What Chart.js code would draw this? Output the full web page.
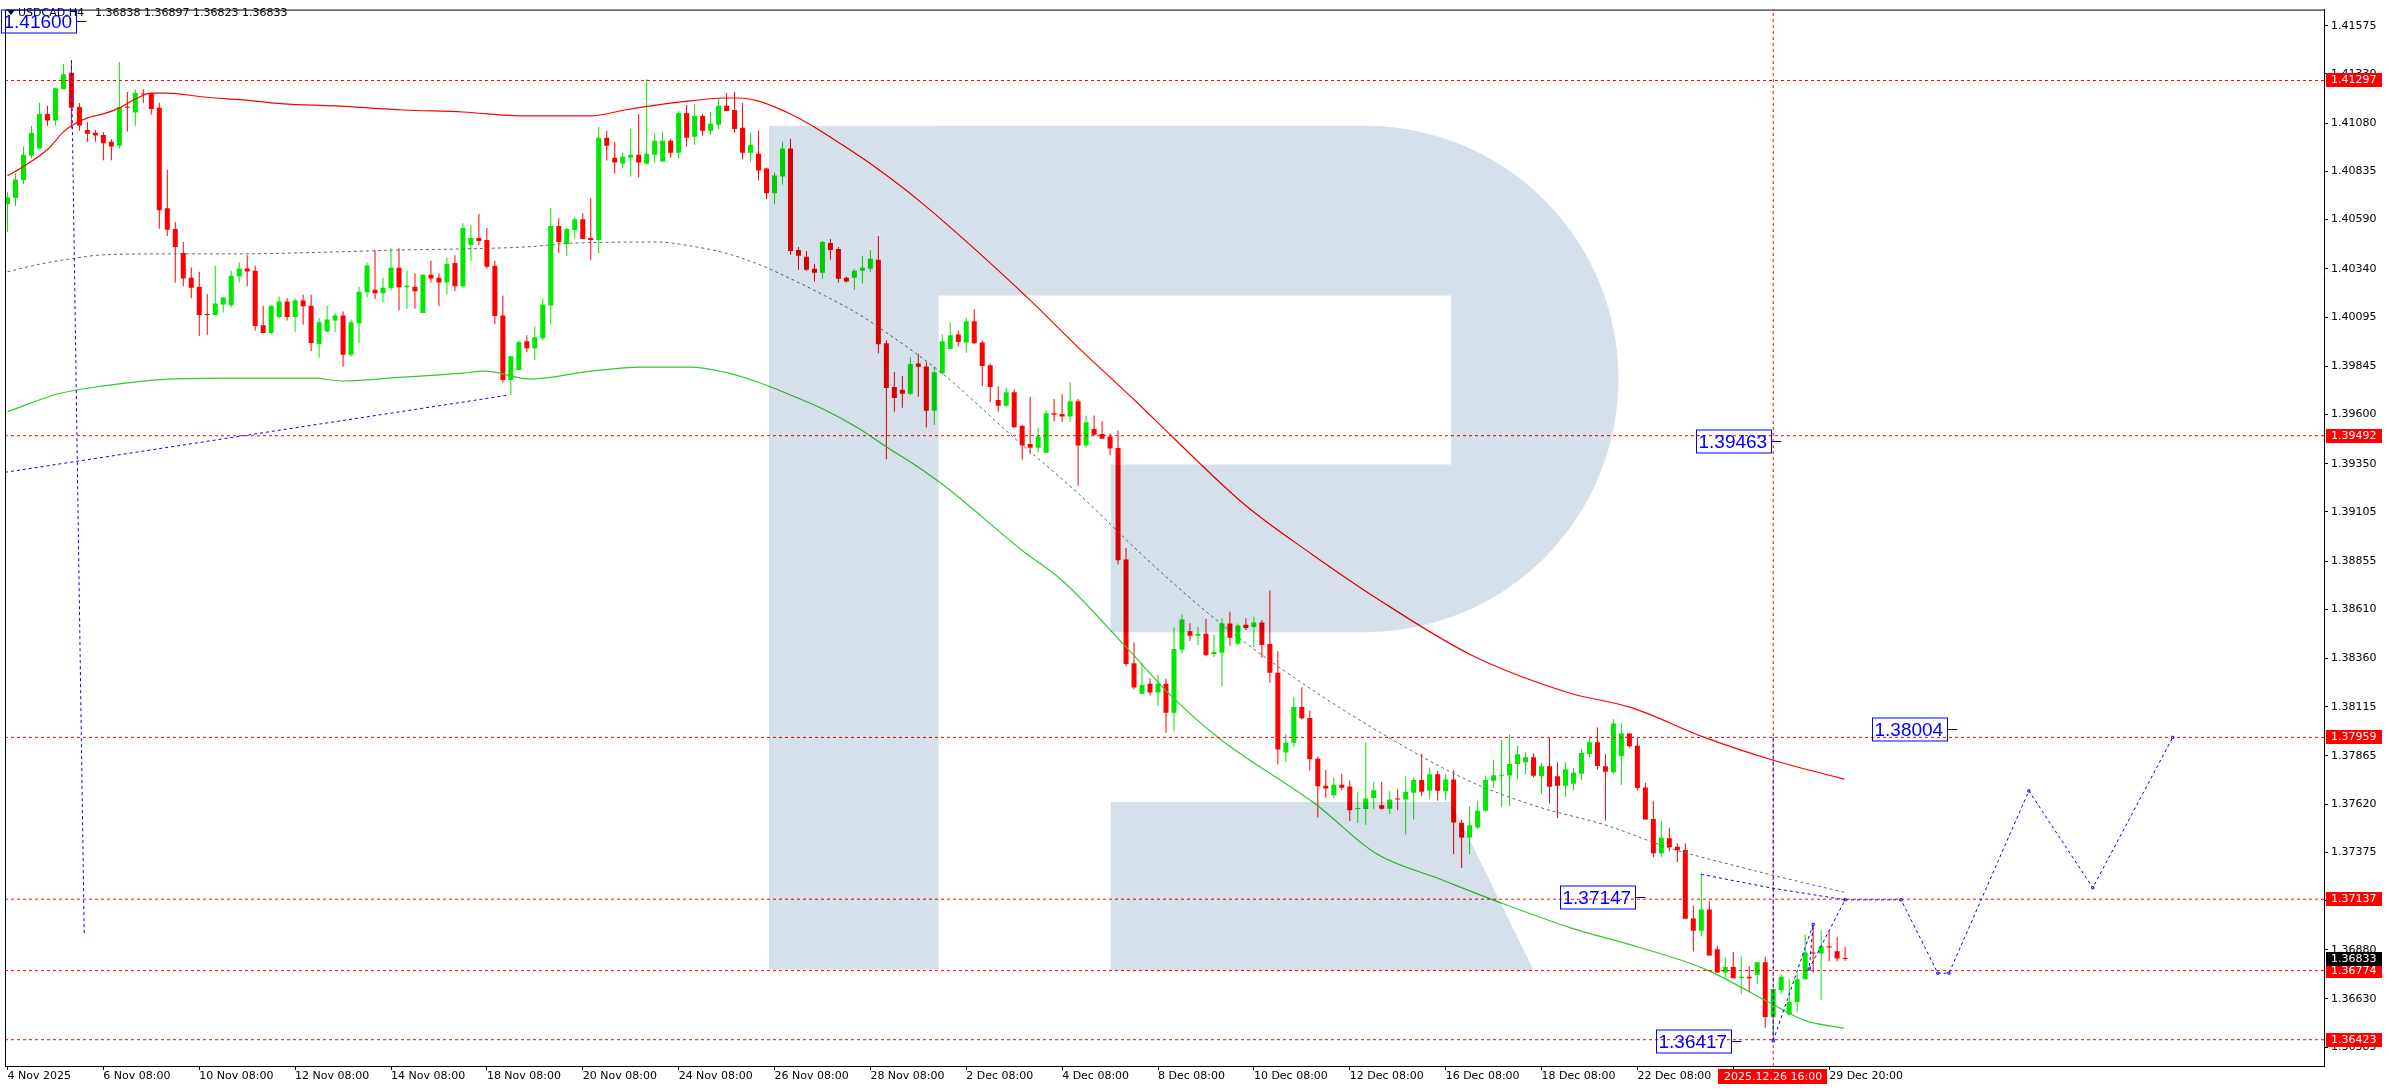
<!DOCTYPE html>
<html><head><meta charset="utf-8"><title>USDCAD H4</title>
<script src="https://cdn.jsdelivr.net/npm/chart.js@4.4.1/dist/chart.umd.min.js"></script>
<style>html,body{margin:0;padding:0;background:#fff;overflow:hidden}canvas{display:block}</style>
</head><body>
<canvas id="chart" width="2388" height="1090"></canvas>
<script>
// ---------------- DATA ----------------
const symbolLabel = 'USDCAD,H4';
const xTickIdx = [0,12,24,36,48,60,72,84,96,108,120,132,144,156,168,180,192,204,216,228];
const xTickLabels = ['4 Nov 2025','6 Nov 08:00','10 Nov 08:00','12 Nov 08:00','14 Nov 08:00','18 Nov 08:00',
  '20 Nov 08:00','24 Nov 08:00','26 Nov 08:00','28 Nov 08:00','2 Dec 08:00','4 Dec 08:00','8 Dec 08:00',
  '10 Dec 08:00','12 Dec 08:00','16 Dec 08:00','18 Dec 08:00','22 Dec 08:00','24 Dec 08:00','29 Dec 20:00'];
const yTicks = [1.41575,1.41330,1.41080,1.40835,1.40590,1.40340,1.40095,1.39845,1.39600,1.39350,1.39105,
  1.38855,1.38610,1.38360,1.38115,1.37865,1.37620,1.37375,1.37130,1.36880,1.36630,1.36385];

const opens = [
1.40670,1.40700,1.40791,1.40915,1.40952,1.41127,1.41094,1.41253,1.41336,1.41162,
1.41046,1.41031,1.41020,1.40986,1.40966,1.41162,1.41134,1.41230,1.41233,1.41159,
1.40648,1.40542,1.40421,1.40295,1.40249,1.40110,1.40105,1.40159,1.40155,1.40301,
1.40342,1.40330,1.40053,1.40014,1.40095,1.40174,1.40095,1.40179,1.40153,1.39958,
1.40022,1.40078,1.40103,1.39903,1.40064,1.40221,1.40234,1.40216,1.40241,1.40345,
1.40246,1.40249,1.40115,1.40310,1.40295,1.40271,1.40369,1.40251,1.40461,1.40497,
1.40487,1.40355,1.40103,1.39775,1.39826,1.39972,1.39937,1.39987,1.40154,1.40557,
1.40466,1.40537,1.40592,1.40497,1.40487,1.41006,1.40905,1.40875,1.40905,1.40920,
1.40875,1.40920,1.40885,1.40991,1.40930,1.41132,1.41011,1.41117,1.41041,1.41072,
1.41168,1.41147,1.41057,1.40930,1.40925,1.40850,1.40724,1.40809,1.40951,1.40436,
1.40401,1.40340,1.40320,1.40471,1.40441,1.40295,1.40295,1.40330,1.40340,1.40386,
1.39962,1.39740,1.39725,1.39705,1.39859,1.39844,1.39619,1.39810,1.39932,1.40006,
1.39966,1.40073,1.39966,1.39850,1.39673,1.39644,1.39713,1.39541,1.39450,1.39431,
1.39406,1.39606,1.39602,1.39589,1.39667,1.39442,1.39526,1.39501,1.39488,1.39429,
1.38863,1.38336,1.38181,1.38231,1.38187,1.38231,1.38084,1.38404,1.38498,1.38475,
1.38486,1.38383,1.38389,1.38538,1.38435,1.38532,1.38520,1.38543,1.38433,1.38288,
1.37882,1.37932,1.38113,1.38058,1.37850,1.37713,1.37665,1.37719,1.37709,1.37595,
1.37595,1.37651,1.37614,1.37597,1.37646,1.37644,1.37678,1.37742,1.37688,1.37772,
1.37686,1.37745,1.37525,1.37451,1.37501,1.37586,1.37739,1.37764,1.37766,1.37824,
1.37833,1.37858,1.37762,1.37813,1.37762,1.37713,1.37723,1.37774,1.37875,1.37934,
1.37813,1.37782,1.37863,1.37979,1.37917,1.37705,1.37544,1.37370,1.37446,1.37404,
1.37387,1.37039,1.36977,1.37084,1.36883,1.36765,1.36792,1.36736,1.36743,1.36753,
1.36817,1.36538,1.36676,1.36551,1.36614,1.36730,1.36866,1.36861,1.36898,1.36873,
1.36838];
const highs = [
1.40729,1.40826,1.40961,1.41067,1.41183,1.41168,1.41258,1.41381,1.41400,1.41183,
1.41085,1.41046,1.41035,1.40998,1.41390,1.41238,1.41253,1.41253,1.41233,1.41184,
1.40843,1.40577,1.40476,1.40347,1.40325,1.40212,1.40355,1.40194,1.40330,1.40372,
1.40409,1.40355,1.40153,1.40153,1.40199,1.40190,1.40190,1.40209,1.40209,1.40090,
1.40153,1.40115,1.40123,1.40083,1.40249,1.40372,1.40436,1.40295,1.40444,1.40444,
1.40330,1.40318,1.40313,1.40381,1.40318,1.40397,1.40409,1.40572,1.40562,1.40618,
1.40547,1.40381,1.40204,1.39896,1.39977,1.40002,1.40048,1.40189,1.40648,1.40597,
1.40547,1.40603,1.40623,1.40698,1.41062,1.41041,1.40986,1.40930,1.41051,1.41127,
1.41304,1.41026,1.41036,1.41001,1.41142,1.41173,1.41178,1.41127,1.41137,1.41203,
1.41233,1.41238,1.41183,1.41031,1.41041,1.40855,1.40830,1.40986,1.41001,1.40451,
1.40431,1.40365,1.40481,1.40492,1.40451,1.40300,1.40340,1.40406,1.40436,1.40507,
1.39977,1.39816,1.39795,1.39891,1.39909,1.39865,1.39842,1.40006,1.40067,1.40027,
1.40093,1.40135,1.39975,1.39859,1.39743,1.39737,1.39728,1.39547,1.39690,1.39534,
1.39621,1.39678,1.39703,1.39764,1.39678,1.39595,1.39595,1.39566,1.39503,1.39518,
1.38922,1.38442,1.38338,1.38258,1.38280,1.38258,1.38518,1.38583,1.38539,1.38520,
1.38562,1.38482,1.38564,1.38598,1.38536,1.38564,1.38572,1.38555,1.38705,1.38397,
1.37978,1.38166,1.38214,1.38094,1.37861,1.37795,1.37755,1.37774,1.37740,1.37684,
1.37932,1.37735,1.37732,1.37685,1.37695,1.37762,1.37755,1.37877,1.37806,1.37789,
1.37772,1.37792,1.37540,1.37609,1.37636,1.37766,1.37846,1.37947,1.37974,1.37917,
1.37883,1.37878,1.37828,1.37957,1.37833,1.37833,1.37803,1.37900,1.37964,1.38009,
1.37873,1.38051,1.38031,1.37979,1.37957,1.37729,1.37636,1.37535,1.37500,1.37421,
1.37421,1.37105,1.37269,1.37126,1.36898,1.36841,1.36869,1.36846,1.36797,1.36817,
1.36844,1.36681,1.36757,1.36730,1.36760,1.36958,1.37009,1.36978,1.36975,1.36945,
1.36897];
const lows = [
1.40528,1.40658,1.40771,1.40902,1.40949,1.41067,1.41067,1.41253,1.41053,1.41041,
1.40986,1.40986,1.40892,1.40892,1.40952,1.41038,1.41067,1.41184,1.41124,1.40544,
1.40507,1.40271,1.40251,1.40190,1.39999,1.40005,1.40105,1.40118,1.40145,1.40271,
1.40251,1.40027,1.40014,1.40009,1.40086,1.40078,1.40019,1.40056,1.39923,1.39888,
1.40019,1.40019,1.39842,1.39893,1.39963,1.40196,1.40187,1.40169,1.40231,1.40130,
1.40137,1.40137,1.40115,1.40271,1.40150,1.40211,1.40227,1.40244,1.40381,1.40461,
1.40342,1.40058,1.39762,1.39699,1.39826,1.39916,1.39876,1.39977,1.40058,1.40421,
1.40406,1.40497,1.40492,1.40386,1.40421,1.40890,1.40824,1.40850,1.40809,1.40804,
1.40870,1.40880,1.40885,1.40905,1.40900,1.40961,1.40971,1.41016,1.41021,1.41047,
1.41142,1.41031,1.40895,1.40885,1.40789,1.40693,1.40668,1.40769,1.40411,1.40335,
1.40330,1.40275,1.40290,1.40386,1.40270,1.40270,1.40234,1.40265,1.40325,1.39911,
1.39372,1.39614,1.39634,1.39699,1.39690,1.39534,1.39547,1.39804,1.39932,1.39947,
1.39913,1.39958,1.39743,1.39663,1.39614,1.39638,1.39532,1.39370,1.39398,1.39408,
1.39406,1.39566,1.39562,1.39562,1.39238,1.39431,1.39492,1.39476,1.39393,1.38837,
1.38320,1.38202,1.38181,1.38172,1.38120,1.37983,1.37989,1.38385,1.38450,1.38429,
1.38372,1.38368,1.38218,1.38425,1.38429,1.38505,1.38418,1.38364,1.38237,1.37821,
1.37833,1.37909,1.38050,1.37791,1.37552,1.37652,1.37650,1.37690,1.37534,1.37524,
1.37515,1.37594,1.37592,1.37569,1.37589,1.37466,1.37542,1.37660,1.37643,1.37639,
1.37639,1.37365,1.37295,1.37365,1.37493,1.37581,1.37703,1.37607,1.37609,1.37747,
1.37772,1.37757,1.37673,1.37623,1.37550,1.37658,1.37690,1.37742,1.37858,1.37796,
1.37537,1.37774,1.37718,1.37908,1.37688,1.37542,1.37350,1.37350,1.37380,1.37325,
1.37037,1.36871,1.36947,1.36851,1.36765,1.36736,1.36735,1.36654,1.36664,1.36706,
1.36484,1.36417,1.36656,1.36546,1.36563,1.36726,1.36765,1.36625,1.36820,1.36820,
1.36823];
const closes = [
1.40703,1.40794,1.40920,1.41031,1.41127,1.41094,1.41258,1.41329,1.41159,1.41068,
1.41026,1.41018,1.40978,1.40961,1.41162,1.41159,1.41233,1.41226,1.41152,1.40638,
1.40539,1.40451,1.40291,1.40244,1.40105,1.40106,1.40164,1.40194,1.40305,1.40342,
1.40327,1.40049,1.40014,1.40153,1.40174,1.40095,1.40179,1.40150,1.39963,1.40068,
1.40083,1.40103,1.39903,1.40068,1.40224,1.40357,1.40216,1.40244,1.40345,1.40246,
1.40254,1.40226,1.40310,1.40291,1.40271,1.40364,1.40251,1.40547,1.40497,1.40481,
1.40350,1.40100,1.39775,1.39896,1.39967,1.39937,1.39992,1.40159,1.40557,1.40476,
1.40542,1.40592,1.40492,1.40487,1.41006,1.40966,1.40880,1.40910,1.40920,1.40880,
1.40925,1.40991,1.40991,1.40930,1.41132,1.41006,1.41117,1.41041,1.41077,1.41168,
1.41142,1.41051,1.40930,1.40971,1.40840,1.40724,1.40814,1.40951,1.40431,1.40406,
1.40335,1.40320,1.40476,1.40436,1.40290,1.40275,1.40330,1.40345,1.40391,1.39957,
1.39735,1.39684,1.39705,1.39856,1.39842,1.39619,1.39814,1.39972,1.40002,1.39968,
1.40073,1.39962,1.39846,1.39739,1.39644,1.39713,1.39535,1.39442,1.39431,1.39488,
1.39606,1.39598,1.39589,1.39667,1.39442,1.39560,1.39497,1.39476,1.39427,1.38859,
1.38332,1.38212,1.38225,1.38187,1.38231,1.38084,1.38408,1.38558,1.38475,1.38486,
1.38378,1.38393,1.38538,1.38465,1.38528,1.38515,1.38543,1.38429,1.38288,1.37898,
1.37932,1.38113,1.38056,1.37848,1.37711,1.37700,1.37719,1.37703,1.37589,1.37599,
1.37648,1.37690,1.37597,1.37644,1.37643,1.37681,1.37742,1.37683,1.37772,1.37688,
1.37745,1.37527,1.37451,1.37513,1.37586,1.37742,1.37767,1.37767,1.37824,1.37873,
1.37858,1.37764,1.37813,1.37708,1.37713,1.37797,1.37779,1.37880,1.37934,1.37814,
1.37784,1.38030,1.37979,1.37914,1.37702,1.37542,1.37370,1.37449,1.37401,1.37385,
1.37037,1.36977,1.37084,1.36851,1.36765,1.36792,1.36735,1.36743,1.36735,1.36817,
1.36538,1.36681,1.36743,1.36615,1.36730,1.36866,1.36861,1.36898,1.36891,1.36836,
1.36833];

// moving-average style envelope lines (bar index, price)
const redMAIdx = [0,2,5,7,8,10,12,14,16,18,20,24.5,29.5,34.5,41,49.5,57,64.75,73,77.25,81.4,85.5,89.75,91.75,93.9,96,98,100.5,104.25,108.5,113.9,127.4,134.1,141.6,145.75,154.9,163.25,171.4,183.2,195.4,203.25,212.4,221,229.9];
const redMAVal = [1.40813,1.40860,1.40946,1.41036,1.41067,1.41107,1.41127,1.41158,1.41203,1.41233,1.41233,1.41213,1.41198,1.41178,1.41168,1.41147,1.41137,1.41117,1.41117,1.41147,1.41173,1.41193,1.41208,1.41208,1.41193,1.41163,1.41127,1.41072,1.40976,1.40860,1.40693,1.40204,1.39937,1.39652,1.39488,1.39140,1.38890,1.38665,1.38378,1.38186,1.38110,1.37959,1.37843,1.37747];
const grayMAIdx = [0,3.6,7.9,12,20.4,28.6,41.1,49.5,56.6,64.75,71,81.4,85.5,89.75,93.9,98,102.25,106.4,110.5,113.5,117.4,125.75,134.1,142.4,150.75,159.1,171.4,183.25,191.6,199.9,208.25,216.6,221,229.9];
const grayMAVal = [1.40325,1.40360,1.40391,1.40411,1.40416,1.40416,1.40426,1.40436,1.40441,1.40451,1.40471,1.40476,1.40456,1.40421,1.40365,1.40290,1.40204,1.40113,1.40002,1.39916,1.39795,1.39490,1.39195,1.38872,1.38574,1.38317,1.37994,1.37732,1.37606,1.37515,1.37394,1.37303,1.37258,1.37172];
const greenMAIdx = [0,6.4,12,20.4,28.6,38.25,42,49.5,57,59.75,65.5,73,79.25,85.5,89.75,93.9,98,102.25,106.4,110.5,113.5,117.5,127,132,139.9,145.75,151.6,163.9,171.4,179.1,187.4,195.75,204.1,212.4,220.75,224.9,229.9];
const greenMAVal = [1.39614,1.39705,1.39745,1.39780,1.39785,1.39785,1.39770,1.39790,1.39810,1.39820,1.39780,1.39820,1.39841,1.39841,1.39815,1.39765,1.39699,1.39624,1.39533,1.39422,1.39346,1.39230,1.38909,1.38756,1.38423,1.38166,1.37956,1.37614,1.37366,1.37242,1.37111,1.36990,1.36894,1.36783,1.36607,1.36521,1.36481];

// horizontal levels, current price, time marker
const hLevels = [1.41297,1.39492,1.37959,1.37137,1.36774,1.36423];
const currentPrice = 1.36833;
const markerIdx = 221;
const markerLabel = '2025.12.26 16:00';

// blue drawing objects
const trendAIdx = [8, 9.6];          const trendAVal = [1.41400, 1.36965];
const trendBIdx = [-0.31, 62.8];     const trendBVal = [1.39306, 1.39699];
const trendCIdx = [212, 221, 230];   const trendCVal = [1.37263, 1.37192, 1.37134];
const trendDIdx = [221, 221];        const trendDVal = [1.37959, 1.36417];
const forecastIdx = [221, 226, 225.5, 230, 237, 241.6, 243, 253, 261, 271];
const forecastVal = [1.36417, 1.37009, 1.36782, 1.37134, 1.37134, 1.36761, 1.36761, 1.37687, 1.37195, 1.37959];
const blueLabelIdx = [9.8, 222, 244, 205, 217];
const blueLabelVal = [1.41600, 1.39463, 1.38004, 1.37147, 1.36417];

// ---------------- SCALE RANGES ----------------
const X_MIN = -0.3125, X_MAX = 289.9375;
const Y_MIN = 1.362893, Y_MAX = 1.416572;

// ---------------- STYLE ----------------
const UP = '#00e800', DOWN = '#ff0000';
const AXIS_FONT = '"DejaVu Sans", Verdana, sans-serif';
const LABEL_FONT = '"Liberation Sans", Arial, sans-serif';

const idx = opens.map((_, i) => i);
const candleColors = idx.map(i => closes[i] >= opens[i] ? UP : DOWN);
const pts = (xs, ys) => xs.map((x, i) => ({x, y: ys[i]}));

const datasets = [];
[[trendAIdx,trendAVal],[trendBIdx,trendBVal],[trendCIdx,trendCVal],[trendDIdx,trendDVal]].forEach(([xs,ys]) => {
  datasets.push({type:'line', data: pts(xs,ys), borderColor:'#0000ff', borderWidth:1, borderDash:[3,3],
    pointRadius:0, tension:0, order:1});
});
datasets.push({type:'line', data: pts(forecastIdx, forecastVal), borderColor:'#0000ff', borderWidth:1,
  borderDash:[3,3], pointRadius:1.5, pointStyle:'rect', pointBackgroundColor:'#fff', pointBorderColor:'#0000ff',
  pointBorderWidth:1, tension:0, order:1});
hLevels.forEach(v => datasets.push({type:'line', data:[{x:X_MIN,y:v},{x:X_MAX,y:v}], borderColor:'#ff0000',
  borderWidth:1, borderDash:[3,3], pointRadius:0, order:2}));
datasets.push({type:'line', data:[{x:markerIdx,y:Y_MIN},{x:markerIdx,y:Y_MAX}], borderColor:'#ff0000',
  borderWidth:1, borderDash:[3,3], pointRadius:0, order:2});
datasets.push({type:'line', data: pts(redMAIdx, redMAVal), borderColor:'#ff0000', borderWidth:1.2,
  pointRadius:0, cubicInterpolationMode:'monotone', order:3});
datasets.push({type:'line', data: pts(grayMAIdx, grayMAVal), borderColor:'#666666', borderWidth:1,
  borderDash:[3,3], pointRadius:0, cubicInterpolationMode:'monotone', order:3});
datasets.push({type:'line', data: pts(greenMAIdx, greenMAVal), borderColor:'#2ecc2e', borderWidth:1.2,
  pointRadius:0, cubicInterpolationMode:'monotone', order:3});
datasets.push({type:'bar', data: idx.map(i => ({x:i, y:[opens[i], closes[i]]})), backgroundColor: candleColors,
  barThickness:5, grouped:false, minBarLength:1, borderWidth:0, inflateAmount:0, order:5});
datasets.push({type:'bar', data: idx.map(i => ({x:i, y:[lows[i], highs[i]]})), backgroundColor: candleColors,
  barThickness:1, grouped:false, minBarLength:1, borderWidth:0, inflateAmount:0, order:6});

// watermark logo geometry (fractions of the plot area)
const LOGO = {
  stem: [0.3294, 0.1100, 0.4026, 0.9088],
  barTop: 0.1100, holeTop: 0.2707, holeBottom: 0.4305, bowlBottom: 0.5893,
  bowlInnerX: 0.4026, lowerBarX: 0.4768, holeRightX: 0.6236, arcCX: 0.5866,
  legTop: 0.7500, legBottom: 0.9098, legTopRight: 0.6236, legBottomRight: 0.6593
};

const mt4Plugin = {
  id: 'mt4',
  afterDatasetsDraw(chart) {
    const {ctx, chartArea: a} = chart;
    const W = a.right - a.left, H = a.bottom - a.top;
    const X = f => a.left + f * W, Y = f => a.top + f * H;
    ctx.save();
    ctx.beginPath(); ctx.rect(a.left, a.top, W, H); ctx.clip();
    ctx.globalCompositeOperation = 'multiply';
    ctx.fillStyle = 'rgb(214,224,235)';
    const s = LOGO.stem;
    ctx.fillRect(X(s[0]), Y(s[1]), X(s[2]) - X(s[0]), Y(s[3]) - Y(s[1]));
    const cy = (Y(LOGO.barTop) + Y(LOGO.bowlBottom)) / 2;
    const rr = (Y(LOGO.bowlBottom) - Y(LOGO.barTop)) / 2;
    ctx.beginPath();
    ctx.moveTo(X(LOGO.bowlInnerX), Y(LOGO.barTop));
    ctx.lineTo(X(LOGO.arcCX), Y(LOGO.barTop));
    ctx.arc(X(LOGO.arcCX), cy, rr, -Math.PI/2, Math.PI/2);
    ctx.lineTo(X(LOGO.lowerBarX), Y(LOGO.bowlBottom));
    ctx.lineTo(X(LOGO.lowerBarX), Y(LOGO.holeBottom));
    ctx.lineTo(X(LOGO.holeRightX), Y(LOGO.holeBottom));
    ctx.lineTo(X(LOGO.holeRightX), Y(LOGO.holeTop));
    ctx.lineTo(X(LOGO.bowlInnerX), Y(LOGO.holeTop));
    ctx.closePath();
    ctx.fill();
    ctx.beginPath();
    ctx.moveTo(X(LOGO.lowerBarX), Y(LOGO.legTop));
    ctx.lineTo(X(LOGO.legTopRight), Y(LOGO.legTop));
    ctx.lineTo(X(LOGO.legBottomRight), Y(LOGO.legBottom));
    ctx.lineTo(X(LOGO.lowerBarX), Y(LOGO.legBottom));
    ctx.closePath();
    ctx.fill();
    ctx.restore();
  },
  afterDraw(chart) {
    const {ctx, chartArea: a, scales: {x, y}} = chart;
    ctx.save();
    ctx.strokeStyle = '#000'; ctx.lineWidth = 1;
    ctx.beginPath();
    ctx.moveTo(a.left + 0.5, a.bottom); ctx.lineTo(a.left + 0.5, a.top + 0.5); ctx.lineTo(a.right, a.top + 0.5);
    ctx.stroke();

    ctx.font = '11px ' + AXIS_FONT; ctx.textBaseline = 'middle'; ctx.textAlign = 'left';
    hLevels.forEach(v => {
      const py = Math.round(y.getPixelForValue(v));
      ctx.fillStyle = '#ff0000'; ctx.fillRect(a.right + 2, py - 7, 56, 14);
      ctx.fillStyle = '#fff'; ctx.fillText(v.toFixed(5), a.right + 7, py + 0.5);
    });
    const cp = Math.round(y.getPixelForValue(currentPrice));
    ctx.fillStyle = '#000'; ctx.fillRect(a.right + 2, cp - 7, 56, 14);
    ctx.fillStyle = '#fff'; ctx.fillText(currentPrice.toFixed(5), a.right + 7, cp + 0.5);

    const vx = x.getPixelForValue(markerIdx);
    ctx.fillStyle = '#ff0000'; ctx.fillRect(Math.round(vx - 55), a.bottom + 3, 109, 15);
    ctx.fillStyle = '#fff'; ctx.textAlign = 'center'; ctx.fillText(markerLabel, vx, a.bottom + 11);

    ctx.fillStyle = '#000';
    ctx.beginPath(); ctx.moveTo(7, 10); ctx.lineTo(15, 10); ctx.lineTo(11, 15); ctx.closePath(); ctx.fill();
    ctx.textAlign = 'left';
    ctx.fillText(symbolLabel, 18, 13);
    const last = opens.length - 1;
    ctx.fillText([opens[last], highs[last], lows[last], closes[last]].map(v => v.toFixed(5)).join(' '), 95, 13);

    ctx.font = '19px ' + LABEL_FONT;
    blueLabelVal.forEach((v, i) => {
      const ax = Math.round(x.getPixelForValue(blueLabelIdx[i])) + 0.5;
      const ay = Math.round(y.getPixelForValue(v)) + 0.5;
      const bx = ax - 10;
      ctx.strokeStyle = '#0000ff'; ctx.lineWidth = 1;
      ctx.strokeRect(bx - 75, ay - 11.5, 75, 23);
      ctx.beginPath(); ctx.moveTo(bx, ay); ctx.lineTo(ax, ay); ctx.stroke();
      ctx.fillStyle = '#0000ff'; ctx.textAlign = 'left'; ctx.textBaseline = 'middle';
      ctx.fillText(v.toFixed(5), bx - 73, ay + 1);
    });
    ctx.restore();
  }
};

new Chart(document.getElementById('chart').getContext('2d'), {
  type: 'bar',
  data: { datasets },
  options: {
    responsive: false, animation: false, devicePixelRatio: 1, events: [],
    layout: { padding: { left: 2, top: 2, right: 0, bottom: 0 } },
    plugins: { legend: { display: false }, tooltip: { enabled: false } },
    scales: {
      x: {
        type: 'linear', min: X_MIN, max: X_MAX, offset: false,
        grid: { display: true, drawOnChartArea: false, drawTicks: true, tickLength: 4, color: '#000', offset: false },
        border: { display: true, color: '#000', width: 1 },
        ticks: { autoSkip: false, maxRotation: 0, minRotation: 0, align: 'start', padding: 0, color: '#000',
          font: { family: AXIS_FONT, size: 11 }, callback: (v, i) => xTickLabels[i] },
        afterBuildTicks: s => { s.ticks = xTickIdx.map(v => ({ value: v })); },
        afterFit: s => { s.height = 24; }
      },
      y: {
        type: 'linear', position: 'right', min: Y_MIN, max: Y_MAX,
        grid: { display: true, drawOnChartArea: false, drawTicks: true, tickLength: 4, color: '#000' },
        border: { display: true, color: '#000', width: 1 },
        ticks: { padding: 3, color: '#000', font: { family: AXIS_FONT, size: 11 }, callback: v => Number(v).toFixed(5) },
        afterBuildTicks: s => { s.ticks = yTicks.map(v => ({ value: v })); },
        afterFit: s => { s.width = 64; }
      }
    }
  },
  plugins: [mt4Plugin]
});
</script>
</body></html>
